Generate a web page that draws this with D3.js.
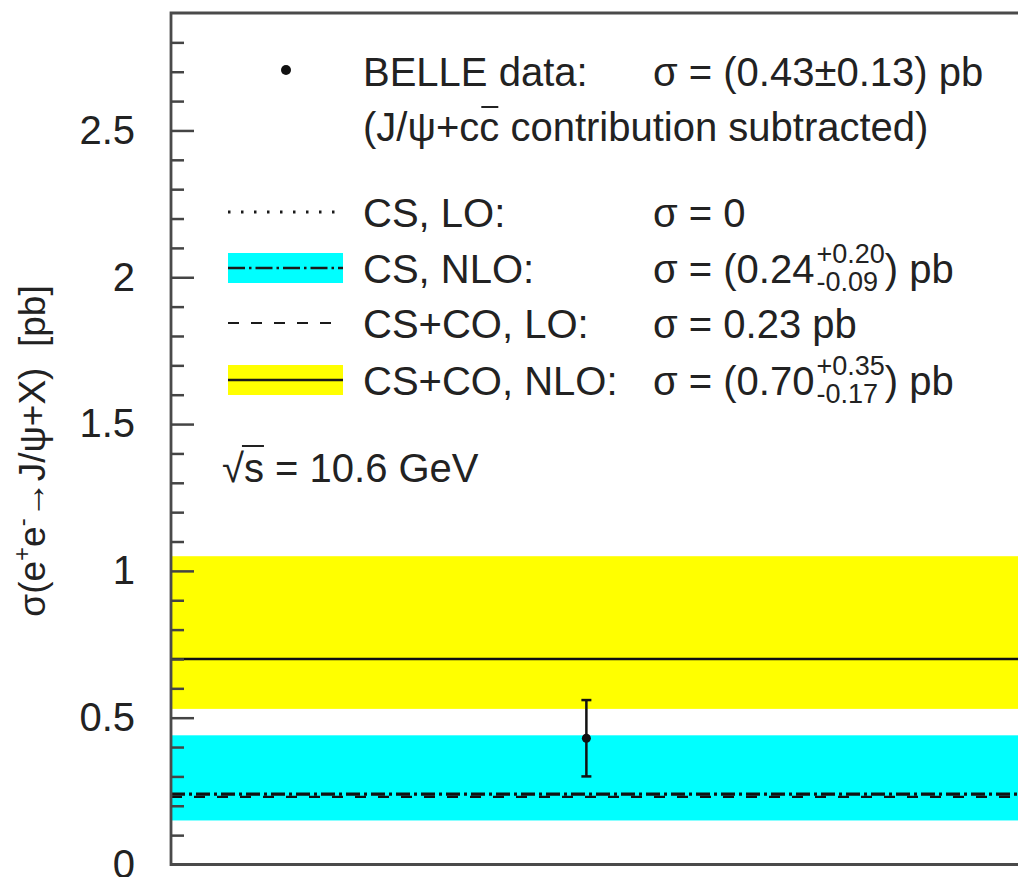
<!DOCTYPE html>
<html>
<head>
<meta charset="utf-8">
<script src="https://cdn.jsdelivr.net/npm/d3@7"></script>
<style>
  body { margin: 0; background: #fff; }
  text { font-family: "Liberation Sans", Arial, Helvetica, sans-serif; fill: #222; }
</style>
</head>
<body>
<div id="chart"></div>
<script>
// ---- data ----
const yTickValues = [0, 0.5, 1, 1.5, 2, 2.5];
const yTickLabels = ["0", "0.5", "1", "1.5", "2", "2.5"];

// BELLE measurement (J/psi + ccbar subtracted)
const belleX = 0.478;
const belleValue = 0.43;
const belleErr = 0.13;

// theory predictions
const predNames   = ["CS, LO", "CS, NLO", "CS+CO, LO", "CS+CO, NLO"];
const predCentral = [0, 0.24, 0.23, 0.70];
const predLow     = [null, 0.15, null, 0.53];
const predHigh    = [null, 0.44, null, 1.05];

// legend texts
const legendLabels = ["CS, LO:", "CS, NLO:", "CS+CO, LO:", "CS+CO, NLO:"];
const sigmaMain    = ["σ = 0", "σ = (0.24", "σ = 0.23 pb", "σ = (0.70"];
const sigmaUp      = ["", "+0.20", "", "+0.35"];
const sigmaDown    = ["", "-0.09", "", "-0.17"];
const sigmaTail    = ["", ") pb", "", ") pb"];

// ---- svg + scales ----
const W = 1018, H = 877;
const svg = d3.select("#chart").append("svg")
  .attr("width", W)
  .attr("height", H);

const x = d3.scaleLinear().domain([0, 1]).range([171, 1040]);
const y = d3.scaleLinear().domain([0, 2.9]).range([864.5, 13]);

const bandColor = d3.scaleOrdinal()
  .domain(["CS, NLO", "CS+CO, NLO"])
  .range(["#00ffff", "#ffff00"]);

const lineStyle = {
  "CS, LO":     { dash: "2.5 10.5",   width: 3 },
  "CS, NLO":    { dash: "14 4 3 4",   width: 3.2 },
  "CS+CO, LO":  { dash: "11 12",      width: 2.2 },
  "CS+CO, NLO": { dash: null,         width: 2.6 }
};

const plot = svg.append("g");

// 1) uncertainty bands
const bands = predNames.map((n, i) => ({ name: n, lo: predLow[i], hi: predHigh[i] }))
  .filter(d => d.lo !== null);

plot.selectAll("rect.band")
  .data(bands)
  .join("rect")
    .attr("class", "band")
    .attr("x", x(0))
    .attr("width", x(1) - x(0))
    .attr("y", d => y(d.hi))
    .attr("height", d => y(d.lo) - y(d.hi))
    .attr("fill", d => bandColor(d.name));

// 2) central lines
plot.selectAll("line.pred")
  .data(predNames)
  .join("line")
    .attr("class", "pred")
    .attr("x1", x(0)).attr("x2", x(1))
    .attr("y1", (d, i) => y(predCentral[i]))
    .attr("y2", (d, i) => y(predCentral[i]))
    .attr("stroke", "#111")
    .attr("stroke-width", d => lineStyle[d].width)
    .attr("stroke-dasharray", d => lineStyle[d].dash);

// 3) BELLE point
const pt = plot.append("g").attr("stroke", "#111").attr("stroke-width", 2.5);
pt.append("line")
  .attr("x1", x(belleX)).attr("x2", x(belleX))
  .attr("y1", y(belleValue - belleErr)).attr("y2", y(belleValue + belleErr));
[belleValue - belleErr, belleValue + belleErr].forEach(v => {
  pt.append("line")
    .attr("x1", x(belleX) - 5).attr("x2", x(belleX) + 5)
    .attr("y1", y(v)).attr("y2", y(v));
});
plot.append("circle")
  .attr("cx", x(belleX)).attr("cy", y(belleValue))
  .attr("r", 4.5).attr("fill", "#111");

// 4) frame + ticks
const frame = svg.append("g").attr("stroke", "#4a4a4a").attr("stroke-width", 2.8).attr("fill", "none");
frame.append("path")
  .attr("d", `M${W + 5},${y(2.9)}H${x(0)}V${y(0)}H${W + 5}`);

const minor = d3.range(1, 29).filter(i => i % 5 !== 0).map(i => i / 10);
svg.append("g")
  .attr("transform", `translate(${x(0)},0)`)
  .call(d3.axisRight(y).tickValues(minor).tickSize(13).tickFormat(""))
  .call(g => g.select(".domain").remove())
  .selectAll("line").attr("stroke", "#444").attr("stroke-width", 2.5);

svg.append("g")
  .attr("transform", `translate(${x(0)},0)`)
  .call(d3.axisRight(y).tickValues(yTickValues.slice(1)).tickSize(23).tickFormat(""))
  .call(g => g.select(".domain").remove())
  .selectAll("line").attr("stroke", "#444").attr("stroke-width", 2.5);

svg.append("g")
  .attr("transform", `translate(${x(0)},0)`)
  .call(d3.axisLeft(y).tickValues(yTickValues).tickSize(0).tickPadding(36)
    .tickFormat((d, i) => yTickLabels[i]))
  .call(g => g.select(".domain").remove())
  .selectAll("text")
    .attr("font-size", 40)
    .attr("fill", "#222")
    .attr("font-family", "Liberation Sans, Arial, sans-serif");

// 5) y-axis title
const yt = svg.append("text")
  .attr("transform", "translate(45,451) rotate(-90)")
  .attr("text-anchor", "middle")
  .attr("font-size", 37)
  .style("white-space", "pre");
yt.append("tspan").text("σ(e");
yt.append("tspan").attr("dy", -15).attr("font-size", 24).text("+");
yt.append("tspan").attr("dy", 15).text("e");
yt.append("tspan").attr("dy", -15).attr("font-size", 24).text("-");
yt.append("tspan").attr("dy", 15).text("→J/ψ+X)  [pb]");

// 6) legend
const leg = svg.append("g").attr("font-size", 40);

leg.append("circle").attr("cx", 286).attr("cy", 70).attr("r", 5).attr("fill", "#111");
leg.append("text").attr("x", 363).attr("y", 86).text("BELLE data:");
leg.append("text").attr("x", 653).attr("y", 86).text("σ = (0.43±0.13) pb");
const sub = leg.append("text").attr("x", 363).attr("y", 141)
  .text("(J/ψ+cc contribution subtracted)");
{
  const e = sub.node().getExtentOfChar(6);
  leg.append("line")
    .attr("x1", e.x + 2).attr("x2", e.x + e.width - 1)
    .attr("y1", 107).attr("y2", 107)
    .attr("stroke", "#222").attr("stroke-width", 2);
}

const rowY = [227, 283, 338, 395];
const rows = leg.selectAll("g.row")
  .data(predNames)
  .join("g")
    .attr("class", "row")
    .attr("transform", (d, i) => `translate(0,${rowY[i]})`);

rows.each(function (d, i) {
  const r = d3.select(this);
  if (predLow[i] !== null) {
    r.append("rect")
      .attr("x", 228).attr("width", 115)
      .attr("y", -30).attr("height", 30)
      .attr("fill", bandColor(d));
  }
  r.append("line")
    .attr("x1", 228).attr("x2", 343)
    .attr("y1", -15).attr("y2", -15)
    .attr("stroke", "#1a1a1a")
    .attr("stroke-width", d === "CS, NLO" ? 2.4 : lineStyle[d].width)
    .attr("stroke-dasharray", d === "CS, NLO" ? "17 4 2.5 4" : lineStyle[d].dash);

  r.append("text").attr("x", 363).attr("y", 0).text(legendLabels[i]);
  const m = r.append("text").attr("x", 653).attr("y", 0).text(sigmaMain[i]);
  if (sigmaUp[i]) {
    const x0 = 653 + m.node().getComputedTextLength() + 2;
    const up = r.append("text").attr("x", x0).attr("y", -20).attr("font-size", 27).text(sigmaUp[i]);
    const dn = r.append("text").attr("x", x0).attr("y", 8).attr("font-size", 27).text(sigmaDown[i]);
    const w = Math.max(up.node().getComputedTextLength(), dn.node().getComputedTextLength());
    r.append("text").attr("x", x0 + w).attr("y", 0).style("white-space", "pre").text(sigmaTail[i]);
  }
});

// sqrt(s)
const rs = leg.append("text").attr("x", 222).attr("y", 482).text("√s = 10.6 GeV");
{
  const a = rs.node().getExtentOfChar(0);
  const b = rs.node().getExtentOfChar(1);
  leg.append("line")
    .attr("x1", a.x + a.width - 2).attr("x2", b.x + b.width)
    .attr("y1", 446).attr("y2", 446)
    .attr("stroke", "#222").attr("stroke-width", 2);
}
</script>
</body>
</html>
